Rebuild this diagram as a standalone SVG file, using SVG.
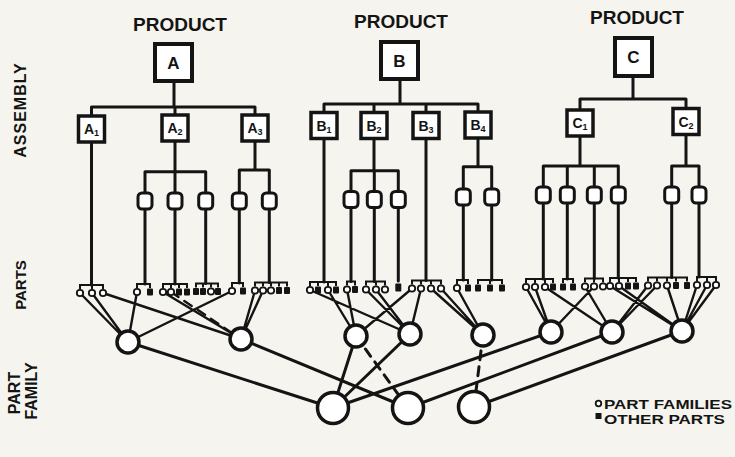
<svg xmlns="http://www.w3.org/2000/svg" width="735" height="457" viewBox="0 0 735 457">
<style>
.ln{stroke:#141414;stroke-width:3;fill:none;stroke-linecap:round}
.pl{stroke:#141414;stroke-width:2.4;fill:none;stroke-linecap:round}
.fl{stroke:#141414;stroke-width:3;fill:none;stroke-linecap:round}
.dash{stroke-dasharray:9 7}
.pbox{fill:#fff;stroke:#141414;stroke-width:4}
.abox{fill:#fff;stroke:#141414;stroke-width:3.5}
.cbox{fill:#fff;stroke:#141414;stroke-width:3}
.fam{fill:#fff;stroke:#141414;stroke-width:3.5}
.br{stroke:#141414;stroke-width:2;fill:none}
.pc{fill:#fff;stroke:#141414;stroke-width:1.8}
.ps{fill:#141414}
.t{font-family:"Liberation Sans",Arial,sans-serif;font-weight:bold;fill:#141414}
.sub{font-size:9px}
</style>
<rect width="735" height="457" fill="#f6f4ee"/>

<g id="side-labels" class="t" font-size="16" text-anchor="middle">
<text transform="translate(26,110) rotate(-90)" letter-spacing="1">ASSEMBLY</text>
<text transform="translate(26,285) rotate(-90)" font-size="15">PARTS</text>
<text transform="translate(20,393) rotate(-90)">PART</text>
<text transform="translate(37,391) rotate(-90)">FAMILY</text>
</g>

<g id="connectors">
<path class="ln" d="M174 81V107M91.5 107H255M91.5 107V116M175 107V115M255 107V115"/>
<path class="ln" d="M400 79V104M324 104H478M324 104V112.5M374 104V112.5M426 104V112.5M478 104V112.5"/>
<path class="ln" d="M633 76V99M580 99H686M580 99V109.5M686 99V108"/>
<path class="ln" d="M91.5 142V285M175 141V171.7M145 171.7H205.7M145 171.7V193M175 171.7V193M205.7 171.7V193M255 141V170M239.3 170H269.3M239.3 170V193M269.3 170V193"/>
<path class="ln" d="M324 138V282M374 138V170.7M351 170.7H398.3M351 170.7V191.7M374.3 170.7V191.7M398.3 170.7V191.7M426 138V280.5M478 138V166.7M463.3 166.7H491.7M463.3 166.7V189M491.7 166.7V189"/>
<path class="ln" d="M580 136V166M543.3 166H618.3M543.3 166V187M567.3 166V187M594.3 166V187M618.3 166V187M686 134.5V166M671.7 166H699M671.7 166V187M699 166V187"/>
<path class="ln" d="M145 209V284M175 209V284M205.7 209V283.5M239.3 209V283M269.3 209V282.5M351 207V281.5M374.3 207V281.5M398.3 207V281M463.3 205V280M491.7 205V280M543.3 203V279M567.3 203V279M594.3 203V278.5M618.3 203V278M671.7 203V277.5M699 203V277"/>
<path class="pl" d="M80 293L128 342M92 293L128 342M103 293L241 339M137 292L128 342M232 291L128 342M163 292L241 339M255 290.5L241 339M263 290.5L241 339"/>
<path class="pl dash" d="M171 292L241 339"/>
<path class="pl" d="M310 290L410 334M328 290L356 336M347 289.5L356 336M366 289.5L410 334M376 289.5L410 334M412 288.5L356 336M421 288.5L410 334M431 288.5L483 335M441 288.5L483 335M457 288L483 335"/>
<path class="pl" d="M526 287L551 332M535 287L551 332M545 287L612 332M594 286.5L551 332M585 286.5L612 332M610 286L682 331M619 286L682 331M648 285.5L612 332M657 285.5L612 332M667 285.5L682 331M697 285L682 331M707 285L682 331M716 285L682 331"/>
<path class="fl" d="M128 342L333 408M241 339L408 408M356 336L333 408M410 334L333 408M551 332L333 408M612 332L408 408M682 331L474 407"/>
<path class="fl dash" d="M356 336L408 408M483 335L474 407"/>
</g>

<g id="product-A">
<text class="t" x="180" y="31" font-size="19" text-anchor="middle">PRODUCT</text>
<rect class="pbox" x="155" y="44" width="37" height="37"/>
<text class="t" x="173.5" y="68.5" font-size="17" text-anchor="middle">A</text>
</g>
<g id="product-B">
<text class="t" x="401" y="28" font-size="19" text-anchor="middle">PRODUCT</text>
<rect class="pbox" x="381" y="42" width="37" height="37"/>
<text class="t" x="399.5" y="66.5" font-size="17" text-anchor="middle">B</text>
</g>
<g id="product-C">
<text class="t" x="637" y="24" font-size="19" text-anchor="middle">PRODUCT</text>
<rect class="pbox" x="615" y="38" width="37" height="38"/>
<text class="t" x="633.5" y="63" font-size="17" text-anchor="middle">C</text>
</g>

<g id="assembly-A1"><rect class="abox" x="78.5" y="116" width="26" height="26"/><text class="t" x="91.5" y="134" font-size="14" text-anchor="middle">A<tspan class="sub" dy="2">1</tspan></text></g>
<g id="assembly-A2"><rect class="abox" x="162" y="115" width="26" height="26"/><text class="t" x="175" y="133" font-size="14" text-anchor="middle">A<tspan class="sub" dy="2">2</tspan></text></g>
<g id="assembly-A3"><rect class="abox" x="242" y="115" width="26" height="26"/><text class="t" x="255" y="133" font-size="14" text-anchor="middle">A<tspan class="sub" dy="2">3</tspan></text></g>
<g id="assembly-B1"><rect class="abox" x="311" y="112.5" width="26" height="26"/><text class="t" x="324" y="130.5" font-size="14" text-anchor="middle">B<tspan class="sub" dy="2">1</tspan></text></g>
<g id="assembly-B2"><rect class="abox" x="361" y="112.5" width="26" height="26"/><text class="t" x="374" y="130.5" font-size="14" text-anchor="middle">B<tspan class="sub" dy="2">2</tspan></text></g>
<g id="assembly-B3"><rect class="abox" x="413" y="112.5" width="26" height="26"/><text class="t" x="426" y="130.5" font-size="14" text-anchor="middle">B<tspan class="sub" dy="2">3</tspan></text></g>
<g id="assembly-B4"><rect class="abox" x="465" y="112" width="26" height="26"/><text class="t" x="478" y="130" font-size="14" text-anchor="middle">B<tspan class="sub" dy="2">4</tspan></text></g>
<g id="assembly-C1"><rect class="abox" x="567" y="110" width="26" height="26"/><text class="t" x="580" y="128" font-size="14" text-anchor="middle">C<tspan class="sub" dy="2">1</tspan></text></g>
<g id="assembly-C2"><rect class="abox" x="673" y="108.5" width="26" height="26"/><text class="t" x="686" y="126.5" font-size="14" text-anchor="middle">C<tspan class="sub" dy="2">2</tspan></text></g>

<g id="components">
<rect class="cbox" x="138" y="193" width="14" height="16" rx="4"/>
<rect class="cbox" x="168" y="193" width="14" height="16" rx="4"/>
<rect class="cbox" x="198.7" y="193" width="14" height="16" rx="4"/>
<rect class="cbox" x="232.3" y="193" width="14" height="16" rx="4"/>
<rect class="cbox" x="262.3" y="193" width="14" height="16" rx="4"/>
<rect class="cbox" x="344" y="191.5" width="14" height="16" rx="4"/>
<rect class="cbox" x="367.3" y="191.5" width="14" height="16" rx="4"/>
<rect class="cbox" x="391.3" y="191.5" width="14" height="16" rx="4"/>
<rect class="cbox" x="456.3" y="189" width="14" height="16" rx="4"/>
<rect class="cbox" x="484.7" y="189" width="14" height="16" rx="4"/>
<rect class="cbox" x="536.3" y="187" width="14" height="16" rx="4"/>
<rect class="cbox" x="560.3" y="187" width="14" height="16" rx="4"/>
<rect class="cbox" x="587.3" y="187" width="14" height="16" rx="4"/>
<rect class="cbox" x="611.3" y="187" width="14" height="16" rx="4"/>
<rect class="cbox" x="664.7" y="187" width="14" height="16" rx="4"/>
<rect class="cbox" x="692" y="187" width="14" height="16" rx="4"/>
</g>

<g id="parts-A1"><path class="br" d="M80 289V285H103V289M92 285V289"/><circle class="pc" cx="80" cy="293" r="3.2"/><circle class="pc" cx="92" cy="293" r="3.2"/><circle class="pc" cx="103" cy="293" r="3.2"/></g>
<g id="parts-A2a"><path class="br" d="M137 288V284H150V288"/><circle class="pc" cx="137" cy="292" r="3.2"/><rect class="ps" x="147" y="288.5" width="6" height="7" rx="1"/></g>
<g id="parts-A2b"><path class="br" d="M163 288V284H187V288M171 284V288M179 284V288"/><circle class="pc" cx="163" cy="292" r="3.2"/><circle class="pc" cx="171" cy="292" r="3.2"/><rect class="ps" x="176" y="288.5" width="6" height="7" rx="1"/><rect class="ps" x="184" y="288.5" width="6" height="7" rx="1"/></g>
<g id="parts-A2c"><path class="br" d="M196 287.5V283.5H218V287.5M203 283.5V287.5M211 283.5V287.5"/><rect class="ps" x="193" y="288" width="6" height="7" rx="1"/><rect class="ps" x="200" y="288" width="6" height="7" rx="1"/><circle class="pc" cx="211" cy="291.5" r="3.2"/><rect class="ps" x="215" y="288" width="6" height="7" rx="1"/></g>
<g id="parts-A3a"><path class="br" d="M232 287V283H243V287"/><circle class="pc" cx="232" cy="291" r="3.2"/><rect class="ps" x="240" y="287.5" width="6" height="7" rx="1"/></g>
<g id="parts-A3b"><path class="br" d="M255 286.5V282.5H287V286.5M263 282.5V286.5M271 282.5V286.5M279 282.5V286.5"/><circle class="pc" cx="255" cy="290.5" r="3.2"/><circle class="pc" cx="263" cy="290.5" r="3.2"/><circle class="pc" cx="271" cy="290.5" r="3.2"/><rect class="ps" x="276" y="287" width="6" height="7" rx="1"/><rect class="ps" x="284" y="287" width="6" height="7" rx="1"/></g>
<g id="parts-B1"><path class="br" d="M310 286V282H336V286M318 282V286M328 282V286"/><circle class="pc" cx="310" cy="290" r="3.2"/><rect class="ps" x="315" y="286.5" width="6" height="7" rx="1"/><circle class="pc" cx="328" cy="290" r="3.2"/><rect class="ps" x="333" y="286.5" width="6" height="7" rx="1"/></g>
<g id="parts-B2a"><path class="br" d="M347 285.5V281.5H355V285.5"/><circle class="pc" cx="347" cy="289.5" r="3.2"/><rect class="ps" x="352" y="286" width="6" height="7" rx="1"/></g>
<g id="parts-B2b"><path class="br" d="M366 285.5V281.5H385V285.5M376 281.5V285.5"/><circle class="pc" cx="366" cy="289.5" r="3.2"/><circle class="pc" cx="376" cy="289.5" r="3.2"/><circle class="pc" cx="385" cy="289.5" r="3.2"/></g>
<g id="parts-B2c"><rect class="ps" x="395.3" y="283.5" width="6" height="8" rx="1"/></g>
<g id="parts-B3"><path class="br" d="M412 284.5V280.5H441V284.5M421 280.5V284.5M431 280.5V284.5"/><circle class="pc" cx="412" cy="288.5" r="3.2"/><circle class="pc" cx="421" cy="288.5" r="3.2"/><circle class="pc" cx="431" cy="288.5" r="3.2"/><circle class="pc" cx="441" cy="288.5" r="3.2"/></g>
<g id="parts-B4a"><path class="br" d="M457 284V280H468V284"/><circle class="pc" cx="457" cy="288" r="3.2"/><rect class="ps" x="465" y="284.5" width="6" height="7" rx="1"/></g>
<g id="parts-B4b"><path class="br" d="M478 284V280H502V284M490 280V284"/><rect class="ps" x="475" y="284.5" width="6" height="7" rx="1"/><rect class="ps" x="487" y="284.5" width="6" height="7" rx="1"/><rect class="ps" x="499" y="284.5" width="6" height="7" rx="1"/></g>
<g id="parts-C1a"><path class="br" d="M526 283V279H553V283M535 279V283M545 279V283"/><circle class="pc" cx="526" cy="287" r="3.2"/><circle class="pc" cx="535" cy="287" r="3.2"/><circle class="pc" cx="545" cy="287" r="3.2"/><rect class="ps" x="550" y="283.5" width="6" height="7" rx="1"/></g>
<g id="parts-C1b"><path class="br" d="M563 283V279H573V283"/><rect class="ps" x="560" y="283.5" width="6" height="7" rx="1"/><rect class="ps" x="570" y="283.5" width="6" height="7" rx="1"/></g>
<g id="parts-C1c"><path class="br" d="M585 282.5V278.5H603V282.5M594 278.5V282.5"/><circle class="pc" cx="585" cy="286.5" r="3.2"/><circle class="pc" cx="594" cy="286.5" r="3.2"/><circle class="pc" cx="603" cy="286.5" r="3.2"/></g>
<g id="parts-C1d"><path class="br" d="M610 282V278H636V282M619 278V282M628 278V282"/><circle class="pc" cx="610" cy="286" r="3.2"/><circle class="pc" cx="619" cy="286" r="3.2"/><rect class="ps" x="625" y="282.5" width="6" height="7" rx="1"/><rect class="ps" x="633" y="282.5" width="6" height="7" rx="1"/></g>
<g id="parts-C2a"><path class="br" d="M648 281.5V277.5H687V281.5M657 277.5V281.5M667 277.5V281.5M676 277.5V281.5"/><circle class="pc" cx="648" cy="285.5" r="3.2"/><circle class="pc" cx="657" cy="285.5" r="3.2"/><circle class="pc" cx="667" cy="285.5" r="3.2"/><rect class="ps" x="673" y="282" width="6" height="7" rx="1"/><rect class="ps" x="684" y="282" width="6" height="7" rx="1"/></g>
<g id="parts-C2b"><path class="br" d="M697 281V277H716V281M707 277V281"/><circle class="pc" cx="697" cy="285" r="3.2"/><circle class="pc" cx="707" cy="285" r="3.2"/><circle class="pc" cx="716" cy="285" r="3.2"/></g>

<g id="family-1"><circle class="fam" cx="128" cy="342" r="11"/></g>
<g id="family-2"><circle class="fam" cx="241" cy="339" r="11"/></g>
<g id="family-3"><circle class="fam" cx="356" cy="336" r="11"/></g>
<g id="family-4"><circle class="fam" cx="410" cy="334" r="11"/></g>
<g id="family-5"><circle class="fam" cx="483" cy="335" r="11"/></g>
<g id="family-6"><circle class="fam" cx="551" cy="332" r="11"/></g>
<g id="family-7"><circle class="fam" cx="612" cy="332" r="11"/></g>
<g id="family-8"><circle class="fam" cx="682" cy="331" r="11"/></g>

<g id="group-1"><circle class="fam" cx="333" cy="408" r="15.5"/></g>
<g id="group-2"><circle class="fam" cx="408" cy="408" r="15.5"/></g>
<g id="group-3"><circle class="fam" cx="474" cy="407" r="15.5"/></g>

<g id="legend">
<circle class="pc" cx="598.5" cy="403.5" r="2.8"/>
<text class="t" x="604" y="408.5" font-size="13.5" textLength="128" lengthAdjust="spacingAndGlyphs">PART FAMILIES</text>
<rect class="ps" x="595.5" y="413" width="6" height="6"/>
<text class="t" x="604" y="424" font-size="13.5" textLength="121" lengthAdjust="spacingAndGlyphs">OTHER PARTS</text>
</g>
</svg>
